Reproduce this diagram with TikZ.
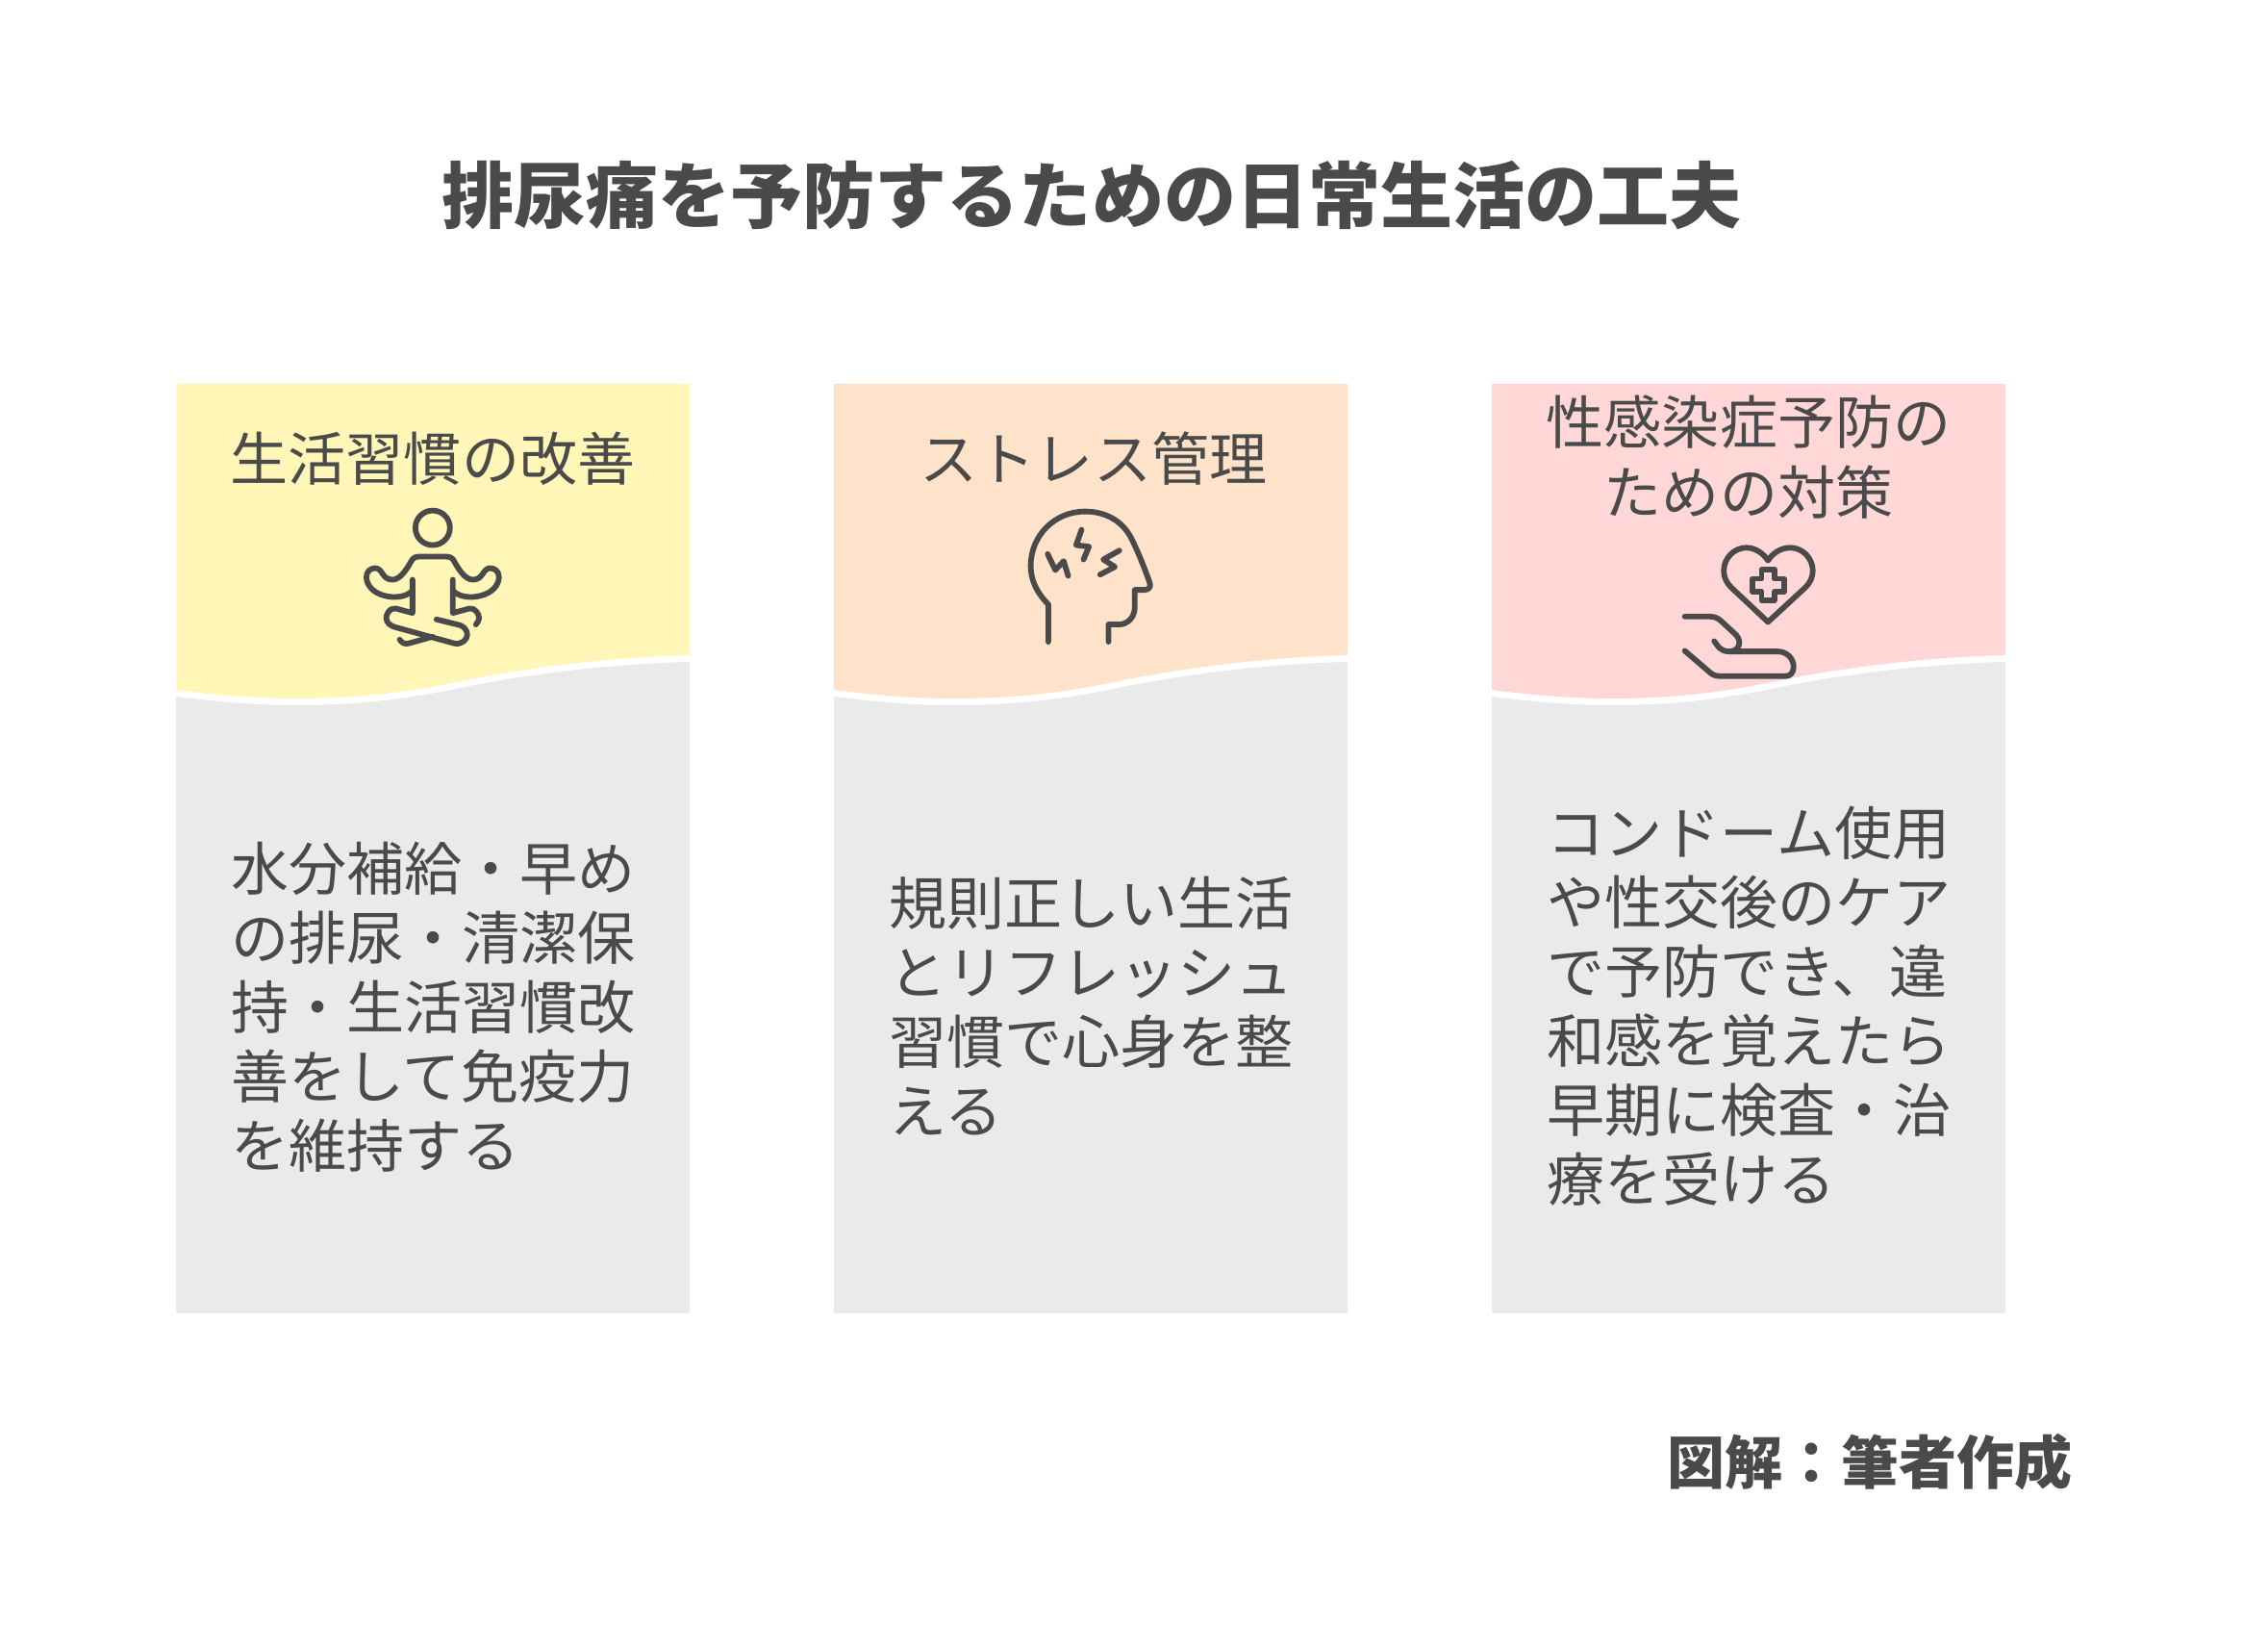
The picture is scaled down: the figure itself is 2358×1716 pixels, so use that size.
\documentclass[tikz,border=0pt]{standalone}
\usepackage{fontspec}
\setmainfont{Noto Sans CJK JP}
\definecolor{ink}{HTML}{4A4A4A}
\definecolor{cyellow}{HTML}{FFF6B7}
\definecolor{cpeach}{HTML}{FFE2CA}
\definecolor{cpink}{HTML}{FFD7D7}
\definecolor{cgrey}{HTML}{EAEAEA}
\tikzset{
  cardtext/.style={inner sep=0pt,text=ink,font=\fontsize{17.07}{20.49}\selectfont},
  bodytext/.style={cardtext,anchor=west,align=left},
  headtext/.style={cardtext,align=center},
  titletext/.style={inner sep=0pt,text=ink,font=\fontsize{21.34}{26}\selectfont\bfseries},
  foottext/.style={inner sep=0pt,text=ink,font=\fontsize{17.07}{20.49}\selectfont\bfseries},
  icon/.style={draw=ink,line width=1.65pt,line cap=round,line join=round},
  zoomframe/.style={x=0.003333cm,y=-0.003333cm}
}
\newcommand{\cardshape}[2]{%
  \begin{scope}[shift={(#1,0)}]
    \fill[cgrey] (183,724) .. controls (230,730) and (270,733) .. (306,733)
      .. controls (370,733) and (420,727) .. (474,716)
      .. controls (540,702) and (630,690) .. (717,688) -- (717,1365) -- (183,1365) -- cycle;
    \fill[#2] (183,399) -- (717,399) -- (717,681)
      .. controls (630,683) and (540,695) .. (474,709)
      .. controls (420,720) and (370,726) .. (306,726)
      .. controls (270,726) and (230,723) .. (183,717) -- cycle;
  \end{scope}}
\begin{document}
\begin{tikzpicture}[x=0.01cm,y=-0.01cm]
\useasboundingbox (0,0) rectangle (2358,1716);
\fill[white] (0,0) rectangle (2358,1716);
\cardshape{0}{cyellow}
\cardshape{684}{cpeach}
\cardshape{1368}{cpink}
\node[titletext] (title) at (1135,203) {排尿痛を予防するための日常生活の工夫};
\node[headtext] (h1) at (450,477) {生活習慣の改善};
\node[headtext] (h2) at (1137,477) {ストレス管理};
\node[headtext] (h3) at (1818,475) {性感染症予防の\\ための対策};
\node[bodytext] (b1) at (240,1047) {水分補給・早め\\の排尿・清潔保\\持・生活習慣改\\善をして免疫力\\を維持する};
\node[bodytext] (b2) at (924,1045.5) {規則正しい生活\\とリフレッシュ\\習慣で心身を整\\える};
\node[bodytext] (b3) at (1608,1046) {コンドーム使用\\や性交後のケア\\で予防でき、違\\和感を覚えたら\\早期に検査・治\\療を受ける};
\node[foottext] (foot) at (1944,1520) {図解：筆者作成};
% meditating person
\begin{scope}[shift={(350,510)},zoomframe]
  \draw[icon] (300,116) circle (54);
  \draw[icon] (237,312) .. controls (215,335) and (175,335) .. (150,328)
    .. controls (115,320) and (93,295) .. (93,270)
    .. controls (93,250) and (108,242) .. (120,242)
    .. controls (145,242) and (140,278) .. (175,278)
    .. controls (200,278) and (222,240) .. (232,222)
    .. controls (238,210) and (245,206) .. (258,206)
    -- (342,206)
    .. controls (355,206) and (362,210) .. (368,222)
    .. controls (378,240) and (400,278) .. (425,278)
    .. controls (460,278) and (455,242) .. (480,242)
    .. controls (492,242) and (507,250) .. (507,270)
    .. controls (507,295) and (485,320) .. (450,328)
    .. controls (425,335) and (385,335) .. (363,312);
  \draw[icon] (237,278) -- (237,382) -- (185,368)
    .. controls (165,365) and (155,385) .. (155,398)
    .. controls (155,412) and (168,422) .. (182,426)
    -- (368,477)
    .. controls (390,482) and (408,465) .. (408,450)
    .. controls (408,435) and (398,425) .. (385,420)
    -- (312,402);
  \draw[icon] (197,465) .. controls (203,475) and (212,480) .. (225,477) -- (300,456);
  \draw[icon] (363,278) -- (363,382) -- (415,368)
    .. controls (432,365) and (445,385) .. (445,398)
    .. controls (445,405) and (440,412) .. (435,418);
\end{scope}
% head with bolts
\begin{scope}[shift={(1020,500)},zoomframe]
  \draw[icon] (210,502) -- (210,385)
    .. controls (175,350) and (155,310) .. (155,265)
    .. controls (155,170) and (230,95) .. (325,95)
    .. controls (395,95) and (445,130) .. (470,180)
    .. controls (490,220) and (510,270) .. (527,318)
    .. controls (532,332) and (522,340) .. (510,340)
    -- (480,340) -- (480,395)
    .. controls (480,425) and (458,448) .. (430,448)
    -- (398,448) -- (398,502);
  \draw[icon] (208,228) -- (232,278) -- (258,250) -- (272,296);
  \draw[icon] (314,152) -- (297,200) -- (337,205) -- (320,245);
  \draw[icon] (432,217) -- (382,245) -- (418,268) -- (372,292);
\end{scope}
% hand with heart
\begin{scope}[shift={(1700,540)},zoomframe]
  \draw[icon] (415,320) -- (300,212)
    .. controls (285,197) and (277,180) .. (277,160)
    .. controls (277,120) and (310,88) .. (347,88)
    .. controls (375,88) and (400,105) .. (415,128)
    .. controls (430,105) and (455,88) .. (485,88)
    .. controls (522,88) and (555,120) .. (555,160)
    .. controls (555,180) and (547,197) .. (532,212) -- cycle;
  \draw[icon] (395,157) -- (435,157) -- (435,185) -- (465,185) -- (465,225)
    -- (435,225) -- (435,253) -- (395,253) -- (395,225) -- (367,225)
    -- (367,185) -- (395,185) -- cycle;
  \draw[icon] (155,303) -- (235,303)
    .. controls (250,303) and (262,310) .. (272,320)
    -- (315,360)
    .. controls (335,380) and (325,412) .. (295,412)
    .. controls (280,412) and (270,408) .. (262,400)
    -- (247,380);
  \draw[icon] (295,412) -- (445,412)
    .. controls (475,412) and (495,435) .. (495,460)
    .. controls (495,478) and (485,489) .. (470,489)
    -- (265,489)
    .. controls (250,489) and (240,484) .. (232,476)
    -- (155,410);
\end{scope}
\end{tikzpicture}
\end{document}
